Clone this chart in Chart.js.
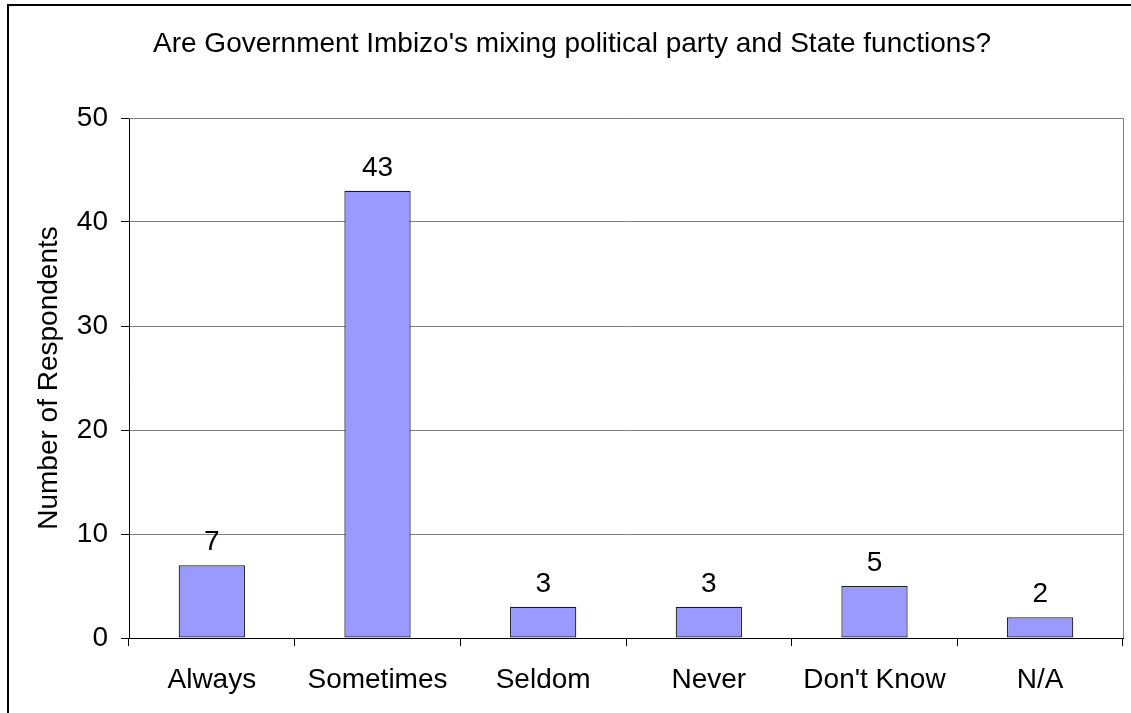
<!DOCTYPE html>
<html>
<head>
<meta charset="utf-8">
<script src="https://cdn.jsdelivr.net/npm/chart.js@4/dist/chart.umd.min.js"></script>
<style>
  html, body { margin: 0; padding: 0; background: #fff; }
  canvas { display: block; }
</style>
</head>
<body>
<canvas id="chart" width="1131" height="713"></canvas>
<script>
const chartTitle = "Are Government Imbizo's mixing political party and State functions?";
const yAxisTitle = 'Number of Respondents';
const categories = ['Always', 'Sometimes', 'Seldom', 'Never', "Don't Know", 'N/A'];
const respondents = [7, 43, 3, 3, 5, 2];
const yMin = 0;
const yMax = 50;
const yStep = 10;

const FONT = '"Liberation Sans", Arial, sans-serif';
const FONT_SIZE = 28;

// Outer frame, plot-area frame and the chart heading
const framePlugin = {
  id: 'frame',
  beforeDraw(chart) {
    const ctx = chart.ctx;
    ctx.save();
    ctx.fillStyle = '#fff';
    ctx.fillRect(0, 0, chart.width, chart.height);
    ctx.restore();
  },
  afterDraw(chart) {
    const ctx = chart.ctx;
    const a = chart.chartArea;
    ctx.save();
    // plot-area outline (top and right edges)
    ctx.strokeStyle = '#808080';
    ctx.lineWidth = 1;
    ctx.beginPath();
    ctx.moveTo(a.left, a.top + 0.5);
    ctx.lineTo(a.right + 0.5, a.top + 0.5);
    ctx.lineTo(a.right + 0.5, a.bottom);
    ctx.stroke();
    // outer frame
    ctx.strokeStyle = '#000';
    ctx.lineWidth = 2;
    ctx.strokeRect(8, 5, chart.width + 20, chart.height + 20);
    // heading
    ctx.fillStyle = '#000';
    ctx.font = FONT_SIZE + 'px ' + FONT;
    ctx.textAlign = 'center';
    ctx.textBaseline = 'alphabetic';
    ctx.fillText(chartTitle, 572, 52);
    ctx.restore();
  }
};

// Value labels above each bar
const valueLabelPlugin = {
  id: 'valueLabels',
  afterDatasetsDraw(chart) {
    const ctx = chart.ctx;
    const meta = chart.getDatasetMeta(0);
    const values = chart.data.datasets[0].data;
    ctx.save();
    ctx.fillStyle = '#000';
    ctx.font = FONT_SIZE + 'px ' + FONT;
    ctx.textAlign = 'center';
    ctx.textBaseline = 'alphabetic';
    meta.data.forEach((bar, i) => {
      ctx.fillText(String(values[i]), bar.x, bar.y - 15);
    });
    ctx.restore();
  }
};

new Chart(document.getElementById('chart'), {
  type: 'bar',
  data: {
    labels: categories,
    datasets: [{
      data: respondents,
      backgroundColor: '#9999FF',
      borderColor: '#1a1a1a',
      borderWidth: 1.2,
      borderSkipped: false,
      barPercentage: 0.4,
      categoryPercentage: 1.0
    }]
  },
  options: {
    responsive: false,
    devicePixelRatio: 1,
    animation: false,
    layout: { padding: { left: 0, top: 118, right: 8, bottom: 0 } },
    plugins: {
      legend: { display: false },
      title: { display: false },
      tooltip: { enabled: false }
    },
    scales: {
      x: {
        grid: {
          display: true,
          drawOnChartArea: false,
          drawTicks: true,
          tickLength: 8,
          tickColor: '#000',
          offset: true
        },
        border: { display: true, color: '#000', width: 1 },
        ticks: {
          color: '#000',
          font: { family: FONT, size: FONT_SIZE },
          padding: 17,
          maxRotation: 0,
          autoSkip: false
        },
        afterFit(scale) { scale.height = 75; }
      },
      y: {
        min: yMin,
        max: yMax,
        grid: {
          color: '#808080',
          lineWidth: 1,
          drawTicks: true,
          tickLength: 8,
          tickColor: '#000'
        },
        border: { display: true, color: '#000', width: 1 },
        ticks: {
          stepSize: yStep,
          color: '#000',
          font: { family: FONT, size: FONT_SIZE },
          padding: 13
        },
        title: {
          display: true,
          text: yAxisTitle,
          color: '#000',
          font: { family: FONT, size: FONT_SIZE },
          padding: { top: 32, bottom: 0 }
        },
        afterFit(scale) { scale.width = 129; }
      }
    }
  },
  plugins: [framePlugin, valueLabelPlugin]
});
</script>
</body>
</html>
